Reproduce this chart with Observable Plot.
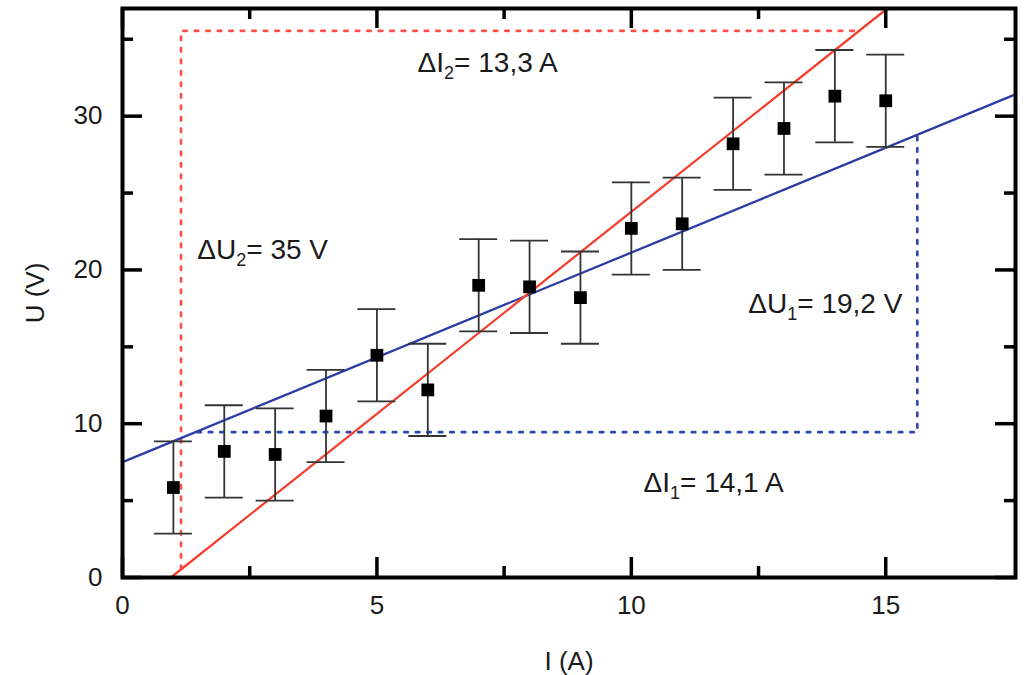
<!DOCTYPE html>
<html>
<head>
<meta charset="utf-8">
<script src="https://cdn.jsdelivr.net/npm/d3@7"></script>
<script src="https://cdn.jsdelivr.net/npm/@observablehq/plot@0.6"></script>
<style>
  html, body { margin: 0; padding: 0; background: #fff; }
</style>
</head>
<body>
<div id="chart"></div>
<script>
// Measured data
const currents = [1, 2, 3, 4, 5, 6, 7, 8, 9, 10, 11, 12, 13, 14, 15];
const voltages = [5.85, 8.2, 8.0, 10.5, 14.45, 12.2, 19.0, 18.9, 18.2, 22.7, 23.0, 28.2, 29.2, 31.3, 31.0];
const errU = 3;

// Fit lines (endpoints)
const blueFitX = [0, 17.5];
const blueFitY = [7.5, 31.35];
const redFitX = [0.95, 15.03];
const redFitY = [0, 37];

// Slope triangles (dotted)
const redTriX = [1.15, 1.15, 14.47];
const redTriY = [0.55, 35.55, 35.55];
const blueTriX = [1.47, 15.62, 15.62];
const blueTriY = [9.45, 9.45, 28.76];

// Annotations
const annPrefix = ["ΔI", "ΔU", "ΔU", "ΔI"];
const annSub = ["2", "2", "1", "1"];
const annRest = ["= 13,3 A", "= 35 V", "= 19,2 V", "= 14,1 A"];
const annX = [5.8, 1.47, 12.3, 10.24];
const annY = [32.86, 20.7, 17.18, 5.53];

// Axis ticks
const xMajor = [0, 5, 10, 15];
const xMinor = [2.5, 7.5, 12.5];
const yMajor = [0, 10, 20, 30];
const yMinor = [5, 15, 25, 35];
const xTitle = "I (A)";
const yTitle = "U (V)";

const points = currents.map((x, i) => ({x, y: voltages[i]}));
const blueFit = blueFitX.map((x, i) => ({x, y: blueFitY[i]}));
const redFit = redFitX.map((x, i) => ({x, y: redFitY[i]}));
const redTri = redTriX.map((x, i) => ({x, y: redTriY[i]}));
const blueTri = blueTriX.map((x, i) => ({x, y: blueTriY[i]}));
const ann = annX.map((x, i) => ({x, y: annY[i], t: annPrefix[i] + annSub[i] + annRest[i]}));

const W = 1028, H = 675, mL = 122, mR = 13, mT = 8, mB = 98;
const pw = W - mL - mR, ph = H - mT - mB;
const MAJ = 20, MIN = 11;
const tickStyle = {stroke: "#000", strokeWidth: 3.5};

const chart = Plot.plot({
  width: W, height: H,
  marginLeft: mL, marginRight: mR, marginTop: mT, marginBottom: mB,
  style: {fontFamily: "'Liberation Sans', Arial, sans-serif", background: "#fff", color: "#1a1a1a"},
  x: {domain: [0, 17.55]},
  y: {domain: [0, 37]},
  marks: [
    // dotted slope triangles
    Plot.line(redTri, {x: "x", y: "y", stroke: "#ff5048", strokeWidth: 2.7, strokeDasharray: "3.5,8"}),
    Plot.line(blueTri, {x: "x", y: "y", stroke: "#3446ac", strokeWidth: 2.7, strokeDasharray: "3.5,8"}),
    // fit lines
    Plot.line(blueFit, {x: "x", y: "y", stroke: "#2b3ca6", strokeWidth: 2.3}),
    Plot.line(redFit, {x: "x", y: "y", stroke: "#f4402f", strokeWidth: 2.3}),
    // error bars
    Plot.ruleX(points, {x: "x", y1: d => d.y - errU, y2: d => d.y + errU, stroke: "#333", strokeWidth: 1.8}),
    Plot.ruleY(points, {y: d => d.y + errU, x1: "x", x2: "x", insetLeft: -19, insetRight: -19, stroke: "#333", strokeWidth: 1.8}),
    Plot.ruleY(points, {y: d => d.y - errU, x1: "x", x2: "x", insetLeft: -19, insetRight: -19, stroke: "#333", strokeWidth: 1.8}),
    // points
    Plot.dot(points, {x: "x", y: "y", symbol: "square", r: 7.2, fill: "#000", stroke: "none"}),
    // annotations
    Plot.text(ann, {x: "x", y: "y", text: "t", textAnchor: "start", lineAnchor: "bottom", fontSize: 28, fill: "#1a1a1a", className: "annot"}),
    // inward ticks: bottom & top
    Plot.tickX(xMajor, {x: d => d, insetTop: ph - MAJ, ...tickStyle}),
    Plot.tickX(xMinor, {x: d => d, insetTop: ph - MIN, ...tickStyle}),
    Plot.tickX(xMajor, {x: d => d, insetBottom: ph - MAJ, ...tickStyle}),
    Plot.tickX(xMinor, {x: d => d, insetBottom: ph - MIN, ...tickStyle}),
    // inward ticks: left & right
    Plot.tickY(yMajor, {y: d => d, insetRight: pw - MAJ, ...tickStyle}),
    Plot.tickY(yMinor, {y: d => d, insetRight: pw - MIN, ...tickStyle}),
    Plot.tickY(yMajor, {y: d => d, insetLeft: pw - MAJ, ...tickStyle}),
    Plot.tickY(yMinor, {y: d => d, insetLeft: pw - MIN, ...tickStyle}),
    // tick labels
    Plot.axisX(xMajor, {tickSize: 0, tickPadding: 18, fontSize: 26, label: null}),
    Plot.axisY(yMajor, {tickSize: 0, tickPadding: 20, fontSize: 26, label: null}),
    // axis titles
    Plot.text([xTitle], {frameAnchor: "bottom", dy: 92, lineAnchor: "bottom", textAnchor: "middle", fontSize: 26, fill: "#1a1a1a"}),
    Plot.text([yTitle], {frameAnchor: "left", dx: -87, rotate: -90, lineAnchor: "middle", textAnchor: "middle", fontSize: 26, fill: "#1a1a1a"}),
    Plot.frame({stroke: "#000", strokeWidth: 4})
  ]
});

// Rebuild annotation texts with real subscripts
d3.select(chart).selectAll(".annot text").each(function(_, i) {
  const t = d3.select(this);
  t.text(null);
  t.append("tspan").text(annPrefix[i]);
  t.append("tspan").attr("font-size", 18).attr("dy", 7).text(annSub[i]);
  t.append("tspan").attr("font-size", 28).attr("dy", -7).text(annRest[i]);
});

document.getElementById("chart").appendChild(chart);
</script>
</body>
</html>
